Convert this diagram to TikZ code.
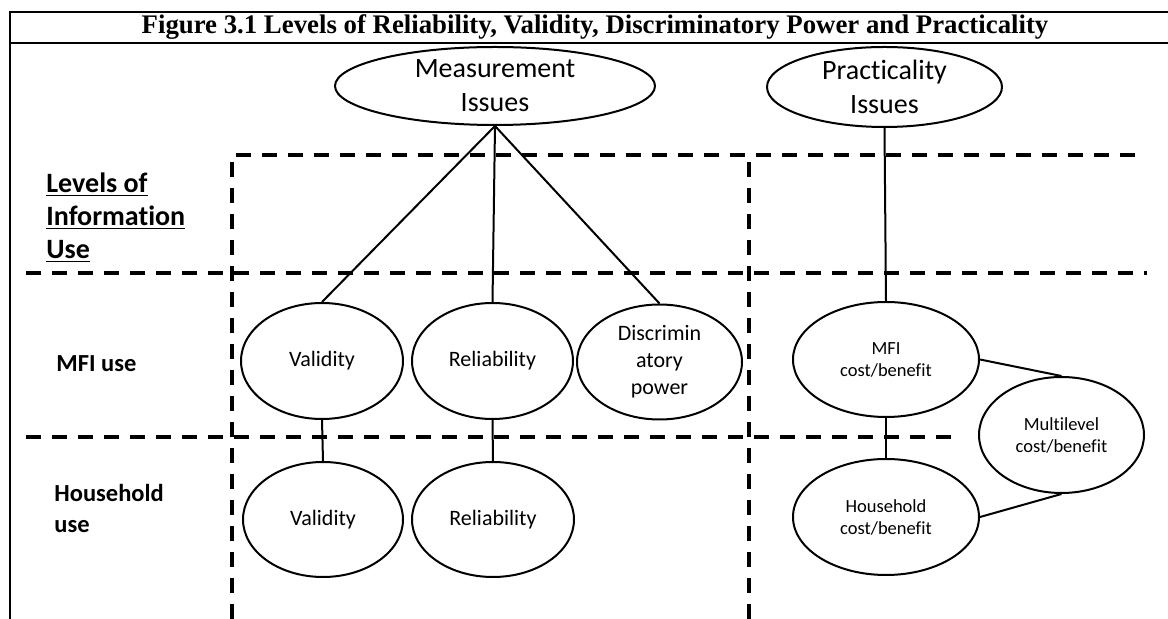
\documentclass[tikz,border=0pt]{standalone}
\usepackage{fontspec}
\setmainfont{Carlito}[Ligatures=NoCommon]
\newfontfamily\titlefont{Liberation Serif}
\usetikzlibrary{shapes}

\tikzset{
  oval/.style={ellipse, draw, line width=1pt, inner xsep=0pt, inner ysep=-10pt, align=center},
  band/.style={line width=2pt, dash pattern=on 7.5pt off 5.5pt},
  link/.style={line width=1pt},
  rowlabel/.style={font=\bfseries\fontsize{12.25}{15.5}\selectfont, inner sep=0pt, align=left},
}

\begin{document}
\begin{tikzpicture}[x=0.5pt, y=-0.5pt]
  \useasboundingbox (0,0) rectangle (1168,619);

  % Frame and title
  \draw[line width=1pt] (10,619) -- (10,12) -- (1168,12);
  \draw[line width=1pt] (10,43) -- (1168,43);
  \node[font=\titlefont\bfseries\fontsize{13.4}{15}\selectfont, anchor=base] (title) at (595,34)
    {Figure 3.1 Levels of Reliability, Validity, Discriminatory Power and Practicality};

  % Dashed level bands
  \draw[band] (232,619) -- (232,155) -- (1143,155);
  \draw[band] (749,619) -- (749,155);
  \draw[band] (26,273) -- (1147,273);
  \draw[band] (26,437) -- (962,437);

  % Row labels
  \node[rowlabel, font=\bfseries\fontsize{14}{16.5}\selectfont, anchor=north west] (levels) at (46,172)
    {\underline{Levels of}\\\underline{Information}\\\underline{Use}};
  \node[rowlabel, anchor=base west] (mfiuse) at (56,372) {MFI use};
  \node[rowlabel, anchor=north west] (hhuse) at (54,484) {Household\\use};

  % Issue ovals
  \node[oval, minimum width=160pt, minimum height=39pt, font=\fontsize{14}{17}\selectfont] (measure) at (495,86) {Measurement\\Issues};
  \node[oval, minimum width=117.5pt, minimum height=40pt, font=\fontsize{14}{17}\selectfont] (practical) at (884.5,87) {Practicality\\Issues};

  % MFI level
  \node[oval, minimum width=81pt, minimum height=58pt, font=\fontsize{11}{13.5}\selectfont] (valMFI) at (322,361) {Validity};
  \node[oval, minimum width=80.5pt, minimum height=58pt, font=\fontsize{11}{13.5}\selectfont] (relMFI) at (492.5,361) {Reliability};
  \node[oval, minimum width=82.5pt, minimum height=57.5pt, font=\fontsize{11}{13.5}\selectfont] (discMFI) at (659.5,362) {Discrimin\\atory\\power};
  \node[oval, minimum width=93pt, minimum height=57.5pt, font=\fontsize{9.25}{11}\selectfont] (costMFI) at (886,359.5) {MFI\\cost/benefit};

  % Household level
  \node[oval, minimum width=80pt, minimum height=57.5pt, font=\fontsize{11}{13.5}\selectfont] (valHH) at (323,519.5) {Validity};
  \node[oval, minimum width=81pt, minimum height=57.5pt, font=\fontsize{11}{13.5}\selectfont] (relHH) at (493,519.5) {Reliability};
  \node[oval, minimum width=93pt, minimum height=58pt, font=\fontsize{9.25}{11}\selectfont] (costHH) at (886,517) {Household\\cost/benefit};
  \node[oval, minimum width=82.5pt, minimum height=58pt, font=\fontsize{9.25}{11}\selectfont] (multi) at (1061.5,435) {Multilevel\\cost/benefit};

  % Links
  \draw[link] (measure.south) -- (valMFI.north);
  \draw[link] (measure.south) -- (relMFI.north);
  \draw[link] (measure.south) -- (discMFI.north);
  \draw[link] (practical.south) -- (costMFI.north);
  \draw[link] (valMFI.south) -- (valHH.north);
  \draw[link] (relMFI.south) -- (relHH.north);
  \draw[link] (costMFI.south) -- (costHH.north);
  \draw[link] (costMFI.east) -- (multi.north);
  \draw[link] (costHH.east) -- (multi.south);
\end{tikzpicture}
\end{document}
